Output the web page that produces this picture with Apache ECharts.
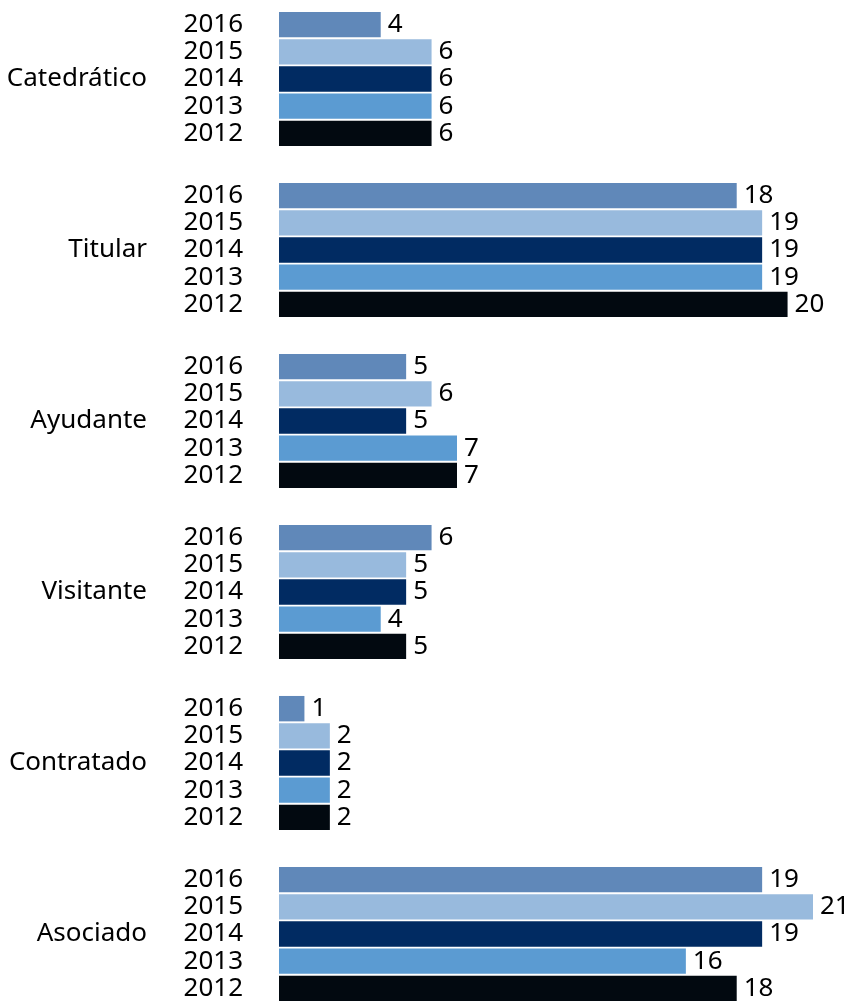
<!DOCTYPE html>
<html>
<head>
<meta charset="utf-8">
<script src="https://cdn.jsdelivr.net/npm/echarts@6/dist/echarts.min.js"></script>
<style>
html, body { margin: 0; padding: 0; background: #fff; }
#chart-container { width: 847px; height: 1005px; }
</style>
</head>
<body>
<div id="chart-container"></div>
<script>
// 類別與年份
var categories = ['Catedrático', 'Titular', 'Ayudante', 'Visitante', 'Contratado', 'Asociado'];
var years = ['2016', '2015', '2014', '2013', '2012'];

// 各年份數據
var values2016 = [4, 18, 5, 6, 1, 19];
var values2015 = [6, 19, 6, 5, 2, 21];
var values2014 = [6, 19, 5, 5, 2, 19];
var values2013 = [6, 19, 7, 4, 2, 16];
var values2012 = [6, 20, 7, 5, 2, 18];
var yearValues = [values2016, values2015, values2014, values2013, values2012];

var colors = ['#6088b9', '#98badd', '#012b62', '#5b9bd2', '#020910'];
var fontName = 'Noto Sans';
var fontSize = 26;

var chart = echarts.init(document.getElementById('chart-container'));

var series = [];
// 可見的柱子, 右邊顯示數值
years.forEach(function(y, i) {
    series.push({
        name: y,
        type: 'bar',
        yAxisIndex: 0,
        data: yearValues[i],
        barCategoryGap: '21.6%',
        barGap: '7%',
        itemStyle: { color: colors[i] },
        label: {
            show: true,
            position: 'right',
            distance: 7,
            color: '#000',
            fontSize: fontSize,
            fontFamily: fontName
        }
    });
});
// 透明柱子, 只用來在左邊顯示年份
years.forEach(function(y, i) {
    series.push({
        name: y + ' ',
        type: 'bar',
        yAxisIndex: 1,
        data: yearValues[i],
        barCategoryGap: '21.6%',
        barGap: '7%',
        silent: true,
        itemStyle: { color: 'transparent' },
        label: {
            show: true,
            position: 'left',
            distance: 36,
            color: '#000',
            fontSize: fontSize,
            fontFamily: fontName,
            formatter: y
        }
    });
});

var option = {
    animation: false,
    grid: {
        left: 279,
        width: 534,
        top: -6.5,
        height: 1026,
        outerBoundsMode: 'none'
    },
    xAxis: {
        type: 'value',
        min: 0,
        max: 21,
        show: false
    },
    yAxis: [{
            type: 'category',
            data: categories,
            inverse: true,
            axisLine: { show: false },
            axisTick: { show: false },
            axisLabel: {
                margin: 132,
                color: '#000',
                fontSize: fontSize,
                fontFamily: fontName
            }
        },
        {
            type: 'category',
            data: categories,
            inverse: true,
            position: 'left',
            axisLine: { show: false },
            axisTick: { show: false },
            axisLabel: { show: false }
        }
    ],
    series: series
};

chart.setOption(option);
</script>
</body>
</html>
